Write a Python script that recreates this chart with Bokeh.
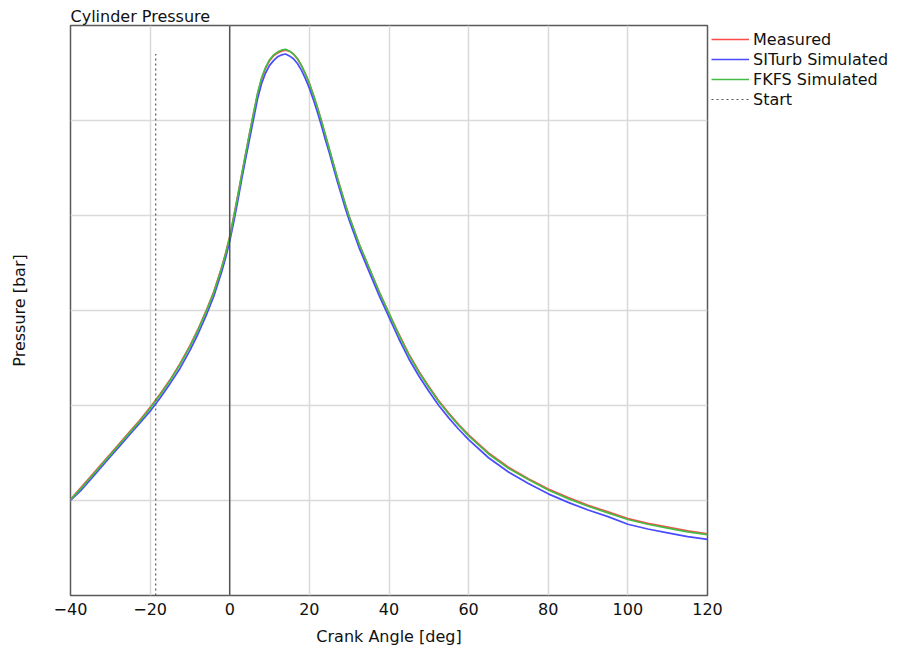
from bokeh.plotting import figure
from bokeh.models import Range1d, Span, Legend, LegendItem, FixedTicker
from bokeh.embed import file_html
from bokeh.resources import INLINE

# ---- data ----
angle = [-40, -37.5, -35, -32.5, -30, -27.5, -25, -22.5, -20, -17.5, -15, -12.5,
         -10, -8, -6, -4, -2, -1, 0, 1, 2, 3, 4, 5, 6, 7, 8, 9, 10, 11, 12, 13,
         14, 15, 16, 17, 18, 19, 20, 21, 22, 23, 24, 25, 26, 27, 28, 29, 30,
         32.5, 35, 37.5, 40, 42.5, 45, 47.5, 50, 52.5, 55, 57.5, 60,
         65, 70, 75, 80, 85, 90, 95, 100, 105, 110, 115, 120]
measured = [10.1, 11.3, 12.5, 13.7, 14.9, 16.1, 17.3, 18.5, 19.8, 21.2, 22.7, 24.4,
            26.3, 28.0, 29.9, 32.0, 34.6, 36.1, 37.8, 39.9, 42.1, 44.3, 46.5, 48.7,
            50.8, 52.8, 54.4, 55.5, 56.3, 56.8, 57.1, 57.3, 57.4, 57.3, 57.0, 56.5,
            55.8, 54.9, 53.9, 52.7, 51.4, 50.0, 48.5, 47.0, 45.5, 44.0, 42.6, 41.2,
            39.9, 37.0, 34.5, 32.0, 29.7, 27.5, 25.4, 23.6, 22.0, 20.5, 19.2, 18.0,
            16.9, 15.0, 13.5, 12.3, 11.2, 10.3, 9.5, 8.8, 8.1, 7.6, 7.2, 6.8, 6.5]
siturb = [10.0, 11.0, 12.2, 13.4, 14.6, 15.8, 17.0, 18.2, 19.4, 20.8, 22.3, 23.9,
          25.8, 27.5, 29.4, 31.5, 34.1, 35.6, 37.3, 39.3, 41.5, 43.8, 46.0, 48.1,
          50.2, 52.3, 53.9, 55.0, 55.8, 56.3, 56.7, 56.9, 57.0, 56.8, 56.5, 56.0,
          55.3, 54.4, 53.4, 52.2, 50.9, 49.5, 48.0, 46.6, 45.1, 43.6, 42.2, 40.8,
          39.5, 36.6, 34.1, 31.6, 29.3, 27.0, 24.9, 23.1, 21.5, 20.0, 18.7, 17.5,
          16.4, 14.5, 13.0, 11.8, 10.7, 9.8, 9.0, 8.3, 7.5, 7.0, 6.6, 6.2, 5.9]
fkfs = [10.1, 11.2, 12.4, 13.6, 14.8, 16.0, 17.2, 18.4, 19.7, 21.1, 22.6, 24.3,
        26.2, 27.9, 29.8, 31.9, 34.5, 36.0, 37.7, 39.8, 42.0, 44.3, 46.5, 48.7,
        50.8, 52.9, 54.5, 55.6, 56.4, 56.9, 57.2, 57.4, 57.5, 57.3, 57.0, 56.5,
        55.8, 54.9, 53.9, 52.7, 51.4, 50.0, 48.5, 47.0, 45.5, 44.0, 42.6, 41.2,
        39.9, 37.0, 34.5, 32.0, 29.7, 27.4, 25.3, 23.5, 21.9, 20.4, 19.1, 17.9,
        16.8, 14.9, 13.4, 12.2, 11.1, 10.2, 9.4, 8.7, 8.0, 7.5, 7.1, 6.7, 6.4]
start_angle = -18.6
x_ticks = [-40, -20, 0, 20, 40, 60, 80, 100, 120]
y_grid = [10, 20, 30, 40, 50]
x_min, x_max = -40, 120
y_min, y_max = 0, 60

FONT = "DejaVu Sans"
TXT = "#111111"

p = figure(frame_width=637, frame_height=570,
           min_border_left=70, min_border_top=25, min_border_right=193,
           min_border_bottom=53,
           x_range=Range1d(x_min, x_max), y_range=Range1d(y_min, y_max),
           title="Cylinder Pressure",
           output_backend="svg", toolbar_location=None)
p.background_fill_color = "white"
p.border_fill_color = "white"
p.outline_line_color = "#5a5a5a"
p.outline_line_width = 1.5

p.title.align = "left"
p.title.text_font = FONT
p.title.text_font_size = "16px"
p.title.text_font_style = "normal"
p.title.text_color = TXT
p.title.standoff = 0
p.title.offset = 0

# axes
p.xaxis.ticker = FixedTicker(ticks=x_ticks)
p.yaxis.ticker = FixedTicker(ticks=y_grid)
p.yaxis.major_label_overrides = {v: "" for v in y_grid}
p.xaxis.axis_label = "Crank Angle [deg]"
p.yaxis.axis_label = "Pressure [bar]"
for ax in (p.xaxis[0], p.yaxis[0]):
    ax.axis_line_color = None
    ax.major_tick_line_color = None
    ax.minor_tick_line_color = None
    ax.major_tick_in = 0
    ax.major_tick_out = 0
    ax.minor_tick_out = 0
    ax.axis_label_text_font = FONT
    ax.axis_label_text_font_size = "16px"
    ax.axis_label_text_font_style = "normal"
    ax.axis_label_text_color = TXT
    ax.major_label_text_font = FONT
    ax.major_label_text_font_size = "16px"
    ax.major_label_text_color = TXT
p.xaxis.major_label_standoff = 7
p.xaxis.axis_label_standoff = 9
p.yaxis.major_label_standoff = 0
p.yaxis.axis_label_standoff = 42

p.xgrid.grid_line_color = "#d9d9d9"
p.xgrid.grid_line_width = 1.5
p.ygrid.grid_line_color = "#d9d9d9"
p.ygrid.grid_line_width = 1.5

# zero line
p.add_layout(Span(location=0, dimension="height", line_color="#444444", line_width=1.3))

# curves
r_meas = p.line(angle, measured, line_color="#ff4a4a", line_width=1.7)
r_sit = p.line(angle, siturb, line_color="#4a4aff", line_width=1.7)
r_fk = p.line(angle, fkfs, line_color="#44bb44", line_width=1.7)
r_start = p.line([start_angle, start_angle], [y_min, max(siturb)],
                 line_color="#555555", line_width=1.2, line_dash="2 3")

legend = Legend(items=[
    LegendItem(label="Measured", renderers=[r_meas]),
    LegendItem(label="SITurb Simulated", renderers=[r_sit]),
    LegendItem(label="FKFS Simulated", renderers=[r_fk]),
    LegendItem(label="Start", renderers=[r_start]),
], location="top_left")
legend.background_fill_alpha = 0
legend.border_line_color = None
legend.padding = 0
legend.margin = 4
legend.spacing = 0
legend.glyph_width = 38
legend.glyph_height = 20
legend.label_height = 20
legend.label_standoff = 4
legend.label_text_font = FONT
legend.label_text_font_size = "16px"
legend.label_text_color = TXT
p.add_layout(legend, "right")

open("out.html", "w").write(file_html(p, INLINE))
